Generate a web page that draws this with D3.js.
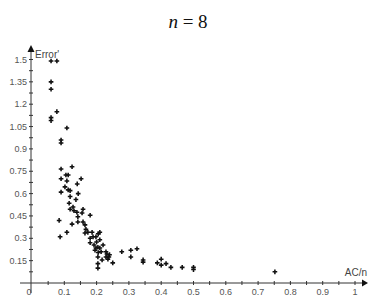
<!DOCTYPE html>
<html><head><meta charset="utf-8">
<script src="https://cdn.jsdelivr.net/npm/d3@7"></script>
<style>body{margin:0;background:#fff}svg{display:block}</style>
</head><body>
<script>
const acn = [0.059,0.077,0.059,0.059,0.077,0.059,0.059,0.108,0.09,0.09,
0.09,0.124,0.09,0.112,0.105,0.108,0.152,0.09,0.102,0.112,0.118,0.14,0.118,0.143,0.136,0.115,0.127,0.118,0.13,0.139,0.158,0.155,0.18,0.142,0.124,0.142,0.158,0.164,0.084,0.108,0.087,0.167,0.173,0.164,0.186,0.21,0.205,0.18,0.189,0.198,0.18,0.2,0.21,0.192,0.204,0.198,0.21,0.22,0.214,0.195,0.229,0.205,0.232,0.24,0.229,0.238,0.204,0.217,0.235,0.25,0.204,0.204,0.278,0.306,0.325,0.306,0.344,0.344,0.388,0.4,0.4,0.415,0.43,0.465,0.5,0.5,0.752];
const error = [1.49,1.49,1.35,1.30,1.15,1.11,1.09,1.04,0.96,0.94,
0.765,0.78,0.70,0.725,0.725,0.685,0.70,0.61,0.645,0.625,0.62,0.665,0.58,0.60,0.56,0.535,0.51,0.495,0.485,0.475,0.495,0.47,0.455,0.445,0.395,0.41,0.41,0.39,0.42,0.34,0.31,0.36,0.34,0.335,0.34,0.34,0.33,0.30,0.31,0.31,0.27,0.275,0.29,0.255,0.24,0.235,0.235,0.255,0.21,0.22,0.21,0.205,0.195,0.19,0.175,0.175,0.175,0.155,0.16,0.135,0.13,0.10,0.21,0.22,0.23,0.175,0.155,0.14,0.135,0.16,0.12,0.13,0.105,0.105,0.105,0.09,0.075];
const xTickLabels = ["0.1","0.2","0.3","0.4","0.5","0.6","0.7","0.8","0.9","1"];
const yTickLabels = ["0.15","0.3","0.45","0.6","0.75","0.9","1.05","1.2","1.35","1.5"];

const W = 382, H = 307;
const svg = d3.select("body").append("svg").attr("width", W).attr("height", H);
const x = d3.scaleLinear().domain([0, 1]).range([32, 355]);
const y = d3.scaleLinear().domain([0, 1.5]).range([283, 59.5]);
const axisColor = "#333", labelColor = "#555";
const font = "'Liberation Sans', Arial, sans-serif";

// title
const t = svg.append("text").attr("x", 188).attr("y", 28).attr("text-anchor", "middle")
  .attr("font-family", "'Liberation Serif', 'Times New Roman', serif").attr("font-size", 19).attr("fill", "#111");
t.append("tspan").attr("font-style", "italic").text("n");
t.append("tspan").text(" = 8");

// x axis
const xMinor = d3.range(1, 21).map(i => i * 0.05);
svg.append("line").attr("x1", 20).attr("x2", 362).attr("y1", y(0)).attr("y2", y(0)).attr("stroke", axisColor);
svg.append("path").attr("d", `M362,${y(0)-3.5}L368,${y(0)}L362,${y(0)+3.5}Z`).attr("fill", "#111");
svg.selectAll(".xt").data(xMinor).join("line").attr("x1", d => x(d)).attr("x2", d => x(d))
  .attr("y1", y(0) - 2).attr("y2", y(0) + 2).attr("stroke", axisColor);
svg.selectAll(".xl").data(xTickLabels).join("text").attr("x", d => x(+d)).attr("y", 295)
  .attr("text-anchor", "middle").attr("font-family", font).attr("font-size", 9).attr("fill", labelColor).text(d => d);
svg.append("text").attr("x", 29).attr("y", 295).attr("text-anchor", "middle")
  .attr("font-family", font).attr("font-size", 9).attr("fill", labelColor).text("0");
svg.append("text").attr("x", 367).attr("y", 276).attr("text-anchor", "end")
  .attr("font-family", font).attr("font-size", 10).attr("fill", "#444").text("AC/n");

// y axis
const yMinor = d3.range(1, 21).map(i => i * 0.075);
svg.append("line").attr("x1", x(0) - 1).attr("x2", x(0) - 1).attr("y1", 293).attr("y2", 52).attr("stroke", axisColor);
svg.append("path").attr("d", `M${x(0)-4.5},52L${x(0)-1},45L${x(0)+2.5},52Z`).attr("fill", "#111");
svg.selectAll(".yt").data(yMinor).join("line").attr("x1", x(0) - 3).attr("x2", x(0) + 1)
  .attr("y1", d => y(d)).attr("y2", d => y(d)).attr("stroke", axisColor);
svg.selectAll(".yl").data(yTickLabels).join("text").attr("x", 27).attr("y", d => y(+d) + 3)
  .attr("text-anchor", "end").attr("font-family", font).attr("font-size", 9).attr("fill", labelColor).text(d => d);
svg.append("text").attr("x", 35).attr("y", 58)
  .attr("font-family", font).attr("font-size", 10).attr("fill", "#444").text("Error'");

// points
const sym = d3.symbol().type(d3.symbolCross).size(12);
svg.selectAll(".pt").data(acn.map((v, i) => [v, error[i]])).join("path")
  .attr("transform", d => `translate(${x(d[0])},${y(d[1])})`).attr("d", sym).attr("fill", "#111");
</script>
</body></html>
